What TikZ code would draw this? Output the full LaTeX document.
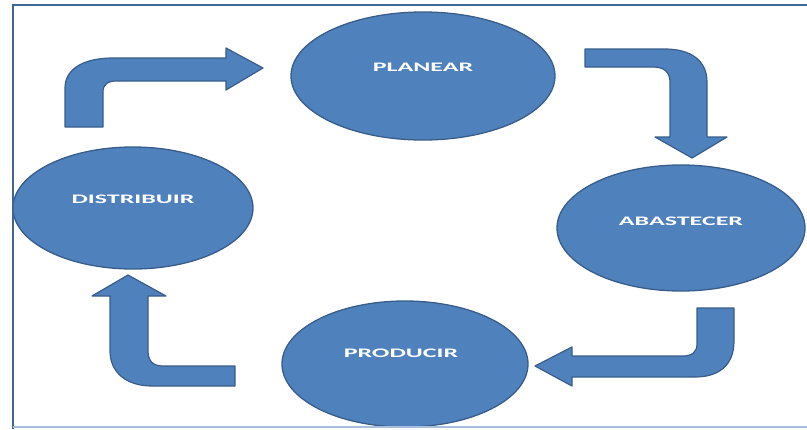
\documentclass[tikz,border=0pt]{standalone}
\usepackage{fontspec}
\setmainfont{Carlito}
\usepackage{tikz}
\usetikzlibrary{shapes.geometric}
\definecolor{azul}{HTML}{4F81BD}
\definecolor{borde}{HTML}{385D8A}
\definecolor{marco}{HTML}{3F6696}
\definecolor{marcoclaro}{HTML}{A7BFDC}
\tikzset{
  etapa/.style={ellipse, draw=borde, fill=azul, line width=1.3pt, inner sep=0pt},
  texto/.style={text=white, font=\fontsize{13}{15}\selectfont\bfseries, inner sep=0pt},
  flecha/.style={draw=borde, fill=azul, line width=1.2pt, line join=round},
}

\begin{document}
\begin{tikzpicture}[x=1pt,y=-1pt]
  \useasboundingbox (0,0) rectangle (807,429);
  % etapas
  \node[etapa, minimum width=264pt, minimum height=128pt] (planear) at (423,76) {};
  \node[etapa, minimum width=248pt, minimum height=126pt] (abastecer) at (681,228) {};
  \node[etapa, minimum width=246pt, minimum height=126pt] (producir) at (405,364) {};
  \node[etapa, minimum width=240pt, minimum height=122pt] (distribuir) at (133,208) {};
  \node[texto] (planear-t) at ([yshift=9pt]planear.center) {\scalebox{2}[1]{PLANEAR}};
  \node[texto] (abastecer-t) at ([yshift=7pt]abastecer.center) {\scalebox{2}[1]{ABASTECER}};
  \node[texto] (producir-t) at ([yshift=11pt,xshift=-4pt]producir.center) {\scalebox{2}[1]{PRODUCIR}};
  \node[texto] (distribuir-t) at ([yshift=9pt]distribuir.center) {\scalebox{2}[1]{DISTRIBUIR}};
  % flechas
  \draw[flecha] (65,127) -- (65,88) .. controls (65,68) and (85,58) .. (113,58)
    -- (226,58) -- (226,48) -- (263,68) -- (226,90) -- (226,81) -- (117,81)
    .. controls (108,81) and (103,84) .. (103,92) -- (103,127) -- cycle;
  \draw[flecha] (585,49) -- (665,49) .. controls (690,49) and (707,60) .. (707,82)
    -- (707,137) -- (727,137) -- (692,158) -- (655,137) -- (670,137) -- (670,82)
    .. controls (670,72) and (664,67) .. (653,67) -- (585,67) -- cycle;
  \draw[flecha] (734,308) -- (734,341) .. controls (734,366) and (718,377) .. (695,377)
    -- (572,377) -- (572,386) -- (535,366) -- (572,347) -- (572,356) -- (683,356)
    .. controls (692,356) and (697,352) .. (697,344) -- (697,308) -- cycle;
  \draw[flecha] (235,386) -- (152,386) .. controls (126,386) and (110,372) .. (110,351)
    -- (110,296) -- (92,296) -- (128,275) -- (166,296) -- (148,296) -- (148,351)
    .. controls (148,361) and (153,366) .. (163,366) -- (235,366) -- cycle;
  % marco
  \draw[marco, line width=2pt] (13,429) -- (13,5) -- (807,5);
  \draw[marcoclaro, line width=1.5pt] (13,427) -- (807,427);
\end{tikzpicture}
\end{document}
